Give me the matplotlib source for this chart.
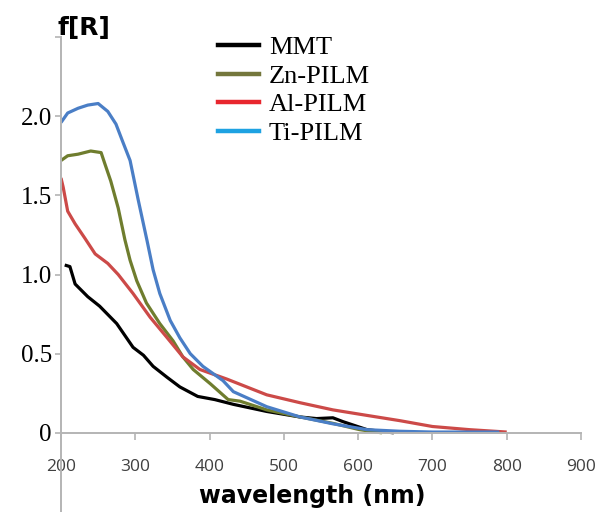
import matplotlib
matplotlib.use("Agg")
import matplotlib.pyplot as plt
from matplotlib.lines import Line2D

# ---------- data ----------
mmt_wl = [205, 212, 219, 236, 252, 275, 297, 311, 324, 343, 360, 384, 407, 432, 477, 522, 544, 566, 580, 612, 639, 648]
mmt_f = [1.06, 1.05, 0.94, 0.86, 0.80, 0.69, 0.54, 0.49, 0.42, 0.35, 0.29, 0.23, 0.21, 0.18, 0.135, 0.10, 0.09, 0.095, 0.07, 0.02, 0.005, 0.0]

zn_wl = [200, 209, 223, 240, 254, 259, 267, 277, 286, 293, 302, 315, 333, 351, 364, 378, 401, 425, 441, 477, 522, 566, 602, 632]
zn_f = [1.72, 1.75, 1.76, 1.78, 1.77, 1.70, 1.59, 1.42, 1.22, 1.09, 0.96, 0.82, 0.69, 0.58, 0.48, 0.40, 0.31, 0.21, 0.20, 0.145, 0.10, 0.06, 0.02, 0.0]

al_wl = [200, 203, 209, 219, 232, 246, 263, 277, 297, 320, 343, 364, 387, 423, 477, 522, 566, 612, 656, 700, 750, 800]
al_f = [1.61, 1.55, 1.40, 1.32, 1.23, 1.13, 1.07, 1.00, 0.88, 0.73, 0.60, 0.48, 0.40, 0.34, 0.24, 0.19, 0.145, 0.11, 0.077, 0.04, 0.02, 0.005]

ti_wl = [200, 209, 223, 236, 250, 263, 274, 283, 293, 304, 316, 324, 333, 347, 360, 374, 391, 418, 432, 477, 522, 566, 612, 656, 700, 790]
ti_f = [1.96, 2.02, 2.05, 2.07, 2.08, 2.03, 1.95, 1.84, 1.72, 1.47, 1.21, 1.03, 0.88, 0.71, 0.60, 0.50, 0.42, 0.33, 0.26, 0.165, 0.10, 0.057, 0.02, 0.01, 0.005, 0.005]

labels = ["MMT", "Zn-PILM", "Al-PILM", "Ti-PILM"]
line_col = ["#000000", "#6f7d2e", "#cc4a48", "#4a7ec6"]
legend_col = ["#000000", "#74773c", "#e8262e", "#1ea2e2"]
xticks = [200, 300, 400, 500, 600, 700, 800, 900]
yticks = [0, 0.5, 1.0, 1.5, 2.0, 2.5]
ytick_labels = ["0", "0.5", "1.0", "1.5", "2.0", ""]

fig = plt.figure(figsize=(5.98, 5.12), dpi=100)
ax = fig.add_axes([0.102, 0.0, 0.8696, 0.9277])

for wl, f, c in zip([mmt_wl, zn_wl, al_wl, ti_wl], [mmt_f, zn_f, al_f, ti_f], line_col):
    ax.plot(wl, f, color=c, lw=2.3, solid_capstyle="butt", solid_joinstyle="round")

ax.set_xlim(200, 900); ax.set_ylim(-0.5, 2.5)
for s in ["top", "right"]: ax.spines[s].set_visible(False)
ax.spines["bottom"].set_position(("data", 0))
for s in ["left", "bottom"]:
    ax.spines[s].set_color("#b4b4b4"); ax.spines[s].set_linewidth(1.4)

ax.set_xticks(xticks)
ax.set_xticklabels([str(x) for x in xticks], family="Open Sans", fontsize=12.5, color="#404040")
ax.set_yticks(yticks)
ax.set_yticklabels(ytick_labels, family="Liberation Serif", fontsize=18)
ax.tick_params(axis="x", direction="out", length=5, width=1.2, color="#b4b4b4", pad=14)
ax.tick_params(axis="y", direction="out", length=4.5, width=1.2, color="#b4b4b4", pad=2)

fig.text(312 / 598, 1 - 496 / 512, "wavelength (nm)", family="DejaVu Sans", weight="bold",
         fontsize=17, ha="center", va="center")
fig.text(84 / 598, 1 - 28 / 512, "f[R]", family="DejaVu Sans", weight="bold",
         fontsize=18, ha="center", va="center")

handles = [Line2D([], [], color=c, lw=3.2) for c in legend_col]
fig.legend(handles, labels, loc="upper left", bbox_to_anchor=(218 / 598, 1 - 36 / 512),
           frameon=False, borderpad=0, borderaxespad=0, handlelength=1.55, handletextpad=0.38,
           labelspacing=0.19, prop={"family": "Liberation Serif", "size": 19})

fig.savefig("out.png", dpi=100)
